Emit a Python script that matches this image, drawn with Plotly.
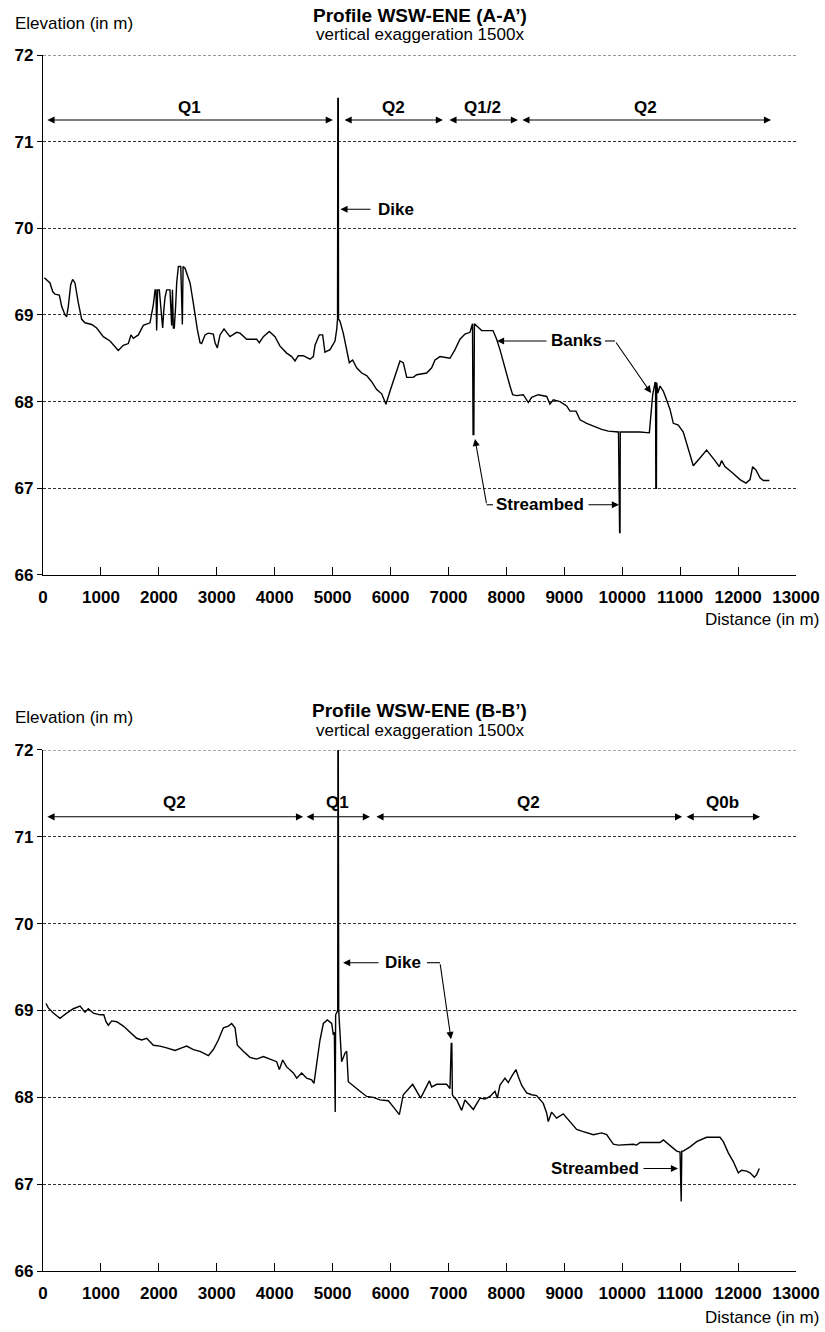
import plotly.graph_objects as go

# ---------------- data ----------------
dist_a = [23,121,167,207,282,322,380,409,437,478,512,552,610,668,725,840,927,1041,1157,1300,1387,1473,1519,1559,1646,1732,1847,1905,1935,1950,1962,1979,2008,2043,2066,2085,2106,2135,2170,2192,2221,2235,2250,2267,2290,2308,2337,2378,2406,2418,2452,2481,2539,2585,2625,2665,2711,2739,2797,2855,2941,2970,3010,3056,3125,3228,3343,3401,3516,3689,3735,3804,3907,4005,4092,4207,4293,4351,4408,4494,4609,4667,4696,4770,4828,4868,4955,5041,5070,5085,5090,5098,5102,5127,5184,5243,5288,5346,5415,5502,5588,5674,5761,5847,5921,5990,6077,6163,6220,6280,6393,6451,6624,6710,6768,6854,7026,7113,7199,7285,7372,7400,7415,7425,7438,7448,7475,7574,7769,7832,7889,7947,8005,8062,8108,8177,8292,8379,8436,8551,8696,8752,8810,8925,9041,9098,9202,9271,9386,9501,9645,9760,9935,9955,9962,9966,10307,10468,10492,10526,10566,10575,10580,10590,10595,10615,10653,10710,10767,10825,10882,10968,11054,11112,11170,11227,11342,11457,11601,11676,11716,11773,11917,12033,12137,12206,12252,12310,12379,12436,12540]
elev_a = [69.43,69.37,69.27,69.24,69.23,69.10,69.00,68.98,69.10,69.35,69.41,69.37,69.14,68.95,68.91,68.89,68.85,68.75,68.70,68.59,68.65,68.67,68.77,68.73,68.77,68.88,68.91,69.12,69.29,69.29,68.82,69.29,69.29,69.00,68.85,69.05,69.20,69.29,69.29,69.29,68.88,69.29,68.85,68.85,69.10,69.37,69.56,69.56,68.89,69.56,69.54,69.48,69.37,69.18,68.98,68.83,68.68,68.67,68.77,68.79,68.78,68.68,68.62,68.77,68.84,68.75,68.80,68.79,68.72,68.72,68.68,68.75,68.81,68.75,68.64,68.56,68.52,68.47,68.53,68.53,68.49,68.52,68.65,68.77,68.77,68.57,68.60,68.70,68.83,68.95,71.50,71.50,68.95,68.93,68.79,68.60,68.45,68.48,68.39,68.33,68.30,68.23,68.14,68.09,67.97,68.12,68.29,68.47,68.45,68.28,68.28,68.31,68.33,68.39,68.48,68.52,68.50,68.60,68.72,68.78,68.80,68.86,68.90,67.62,67.62,68.90,68.88,68.82,68.82,68.72,68.60,68.45,68.33,68.18,68.08,68.07,68.08,67.99,68.05,68.08,68.06,67.97,68.02,68.00,67.95,67.89,67.89,67.79,67.75,67.72,67.68,67.66,67.65,66.49,66.49,67.65,67.65,67.64,67.79,68.08,68.22,68.22,67.00,67.00,68.22,68.10,68.18,68.12,68.02,67.91,67.75,67.73,67.65,67.52,67.41,67.26,67.35,67.44,67.32,67.25,67.32,67.25,67.17,67.10,67.06,67.10,67.25,67.21,67.12,67.09,67.09]

dist_b = [52,92,178,293,409,524,639,725,782,869,984,1050,1088,1128,1186,1272,1387,1502,1617,1704,1790,1905,2020,2135,2279,2394,2481,2596,2711,2855,2941,3027,3114,3200,3257,3315,3355,3458,3573,3689,3804,3919,4034,4080,4138,4207,4322,4380,4466,4552,4638,4678,4713,4782,4840,4909,4984,5012,5030,5045,5052,5075,5088,5092,5098,5105,5127,5156,5214,5243,5271,5358,5473,5588,5703,5818,5962,6048,6152,6220,6382,6520,6670,6710,6797,6969,7026,7048,7058,7068,7084,7142,7228,7285,7372,7429,7545,7631,7717,7803,7844,7889,7976,8033,8091,8165,8205,8263,8349,8436,8522,8637,8695,8723,8781,8867,8982,9098,9213,9300,9386,9501,9645,9731,9846,9933,10192,10249,10307,10652,10710,10825,10940,10998,11008,11018,11028,11054,11170,11285,11457,11687,11745,11831,11917,12004,12061,12148,12206,12281,12321,12367]
elev_b = [69.08,69.03,68.97,68.91,68.97,69.02,69.05,68.98,69.02,68.97,68.95,68.95,68.87,68.83,68.88,68.87,68.82,68.75,68.68,68.66,68.68,68.60,68.59,68.57,68.54,68.57,68.59,68.55,68.53,68.48,68.55,68.66,68.80,68.82,68.85,68.80,68.60,68.53,68.46,68.44,68.47,68.44,68.41,68.32,68.43,68.35,68.28,68.22,68.28,68.22,68.20,68.16,68.32,68.66,68.85,68.89,68.85,68.72,68.75,67.83,68.95,69.00,69.00,72.00,72.00,69.00,68.70,68.41,68.51,68.53,68.18,68.13,68.07,68.01,68.00,67.97,67.96,67.89,67.80,68.03,68.15,67.99,68.19,68.12,68.15,68.15,68.10,68.62,68.62,68.03,68.01,67.97,67.85,67.97,67.91,67.86,67.99,67.98,68.01,68.07,67.99,68.14,68.22,68.17,68.24,68.32,68.24,68.14,68.05,68.03,68.02,67.93,67.82,67.72,67.83,67.76,67.81,67.72,67.63,67.61,67.59,67.57,67.59,67.57,67.46,67.45,67.46,67.45,67.48,67.48,67.51,67.45,67.38,67.37,66.80,66.80,67.38,67.38,67.43,67.49,67.54,67.54,67.49,67.36,67.26,67.13,67.16,67.15,67.13,67.08,67.11,67.18]

units_a = ["Q1", "Q2", "Q1/2", "Q2"]
unit_start_a = [50, 5180, 6990, 8250]
unit_end_a = [5005, 6905, 8200, 12570]
units_b = ["Q2", "Q1", "Q2", "Q0b"]
unit_start_b = [50, 4525, 5730, 11085]
unit_end_b = [4490, 5645, 11035, 12380]

x_ticks = list(range(0, 13001, 1000))
x_tick_labels = [str(v) for v in x_ticks]
y_ticks = [66, 67, 68, 69, 70, 71, 72]
y_tick_labels = [str(v) for v in y_ticks]

titles = ["Profile WSW-ENE (A-A’)", "Profile WSW-ENE (B-B’)"]
subtitle = "vertical exaggeration 1500x"

FONT = "Liberation Sans, Arial, sans-serif"
BLACK = "#000000"
FS = 17

fig = go.Figure()
fig.add_trace(go.Scatter(x=dist_a, y=elev_a, mode="lines", line=dict(color=BLACK, width=1.4),
                         xaxis="x", yaxis="y", showlegend=False, hoverinfo="skip"))
fig.add_trace(go.Scatter(x=dist_b, y=elev_b, mode="lines", line=dict(color=BLACK, width=1.4),
                         xaxis="x2", yaxis="y2", showlegend=False, hoverinfo="skip"))

ann = []
shapes = []

def range_arrows(names, starts, ends, xr, yr, yline, ylab):
    for n, s, e in zip(names, starts, ends):
        ann.append(dict(x=e, y=yline, ax=s, ay=yline, xref=xr, yref=yr, axref=xr, ayref=yr,
                        text="", showarrow=True, arrowhead=2, startarrowhead=2,
                        arrowside="end+start", arrowsize=1.3, startarrowsize=1.3,
                        arrowwidth=1.1, arrowcolor=BLACK))
        ann.append(dict(x=(s + e) / 2, y=ylab, xref=xr, yref=yr, text=f"<b>{n}</b>",
                        showarrow=False, yanchor="middle",
                        font=dict(family=FONT, size=FS, color=BLACK)))

def arrow(x0, y0, x1, y1, xr, yr):
    ann.append(dict(x=x1, y=y1, ax=x0, ay=y0, xref=xr, yref=yr, axref=xr, ayref=yr,
                    text="", showarrow=True, arrowhead=2, arrowsize=1.3, arrowwidth=1.1,
                    arrowcolor=BLACK))

def label(x, y, t, xr, yr, size=FS):
    ann.append(dict(x=x, y=y, xref=xr, yref=yr, text=f"<b>{t}</b>", showarrow=False,
                    yanchor="middle", font=dict(family=FONT, size=size, color=BLACK)))

def seg(x0, y0, x1, y1, xr, yr, dash="solid", color=BLACK, width=1.1):
    shapes.append(dict(type="line", x0=x0, y0=y0, x1=x1, y1=y1, xref=xr, yref=yr,
                       line=dict(color=color, width=width, dash=dash), layer="below"))

# top chart
range_arrows(units_a, unit_start_a, unit_end_a, "x", "y", 71.25, 71.40)
label(6094, 70.22, "Dike", "x", "y")
arrow(5680, 70.22, 5135, 70.22, "x", "y")
label(9219, 68.70, "Banks", "x", "y")
arrow(8718, 68.70, 7838, 68.70, "x", "y")
seg(9702, 68.70, 9875, 68.70, "x", "y")
arrow(9875, 68.70, 10497, 68.10, "x", "y")
label(8580, 66.81, "Streambed", "x", "y")
arrow(9392, 66.81, 9944, 66.81, "x", "y")
seg(7769, 66.81, 7660, 66.81, "x", "y")
arrow(7660, 66.81, 7458, 67.57, "x", "y")

# bottom chart
range_arrows(units_b, unit_start_b, unit_end_b, "x2", "y2", 71.23, 71.39)
label(6215, 69.55, "Dike", "x2", "y2")
arrow(5818, 69.55, 5180, 69.55, "x2", "y2")
seg(6629, 69.55, 6854, 69.55, "x2", "y2")
arrow(6854, 69.55, 7044, 68.67, "x2", "y2")
label(9530, 67.18, "Streambed", "x2", "y2")
arrow(10341, 67.18, 10963, 67.18, "x2", "y2")

# top gridline (at range edge) for both charts
for xd, yr in [("x domain", "y"), ("x2 domain", "y2")]:
    shapes.append(dict(type="line", x0=0, x1=1, y0=y_ticks[-1], y1=y_ticks[-1], xref=xd, yref=yr,
                       line=dict(color="#333333", width=1, dash="3px,2px"), layer="below"))

# titles / axis labels
for i, (xd, yd) in enumerate([("x domain", "y domain"), ("x2 domain", "y2 domain")]):
    ty = [1.0769, 1.0749][i]
    sy = [1.0385, 1.0365][i]
    ey = [1.0615, 1.0614][i]
    dy = [-0.0865, -0.0902][i]
    ann.append(dict(x=0.5, y=ty, xref=xd, yref=yd, text=f"<b>{titles[i]}</b>", showarrow=False,
                    yanchor="middle", font=dict(family=FONT, size=19, color=BLACK)))
    ann.append(dict(x=0.5, y=sy, xref=xd, yref=yd, text=subtitle, showarrow=False,
                    yanchor="middle", font=dict(family=FONT, size=FS, color=BLACK)))
    ann.append(dict(x=-0.04, y=ey, xref=xd, yref=yd, text="Elevation (in m)", showarrow=False,
                    xanchor="left", yanchor="middle", font=dict(family=FONT, size=FS, color=BLACK)))
    ann.append(dict(x=1.033, y=dy, xref=xd, yref=yd, text="Distance (in m)", showarrow=False,
                    xanchor="right", yanchor="middle", font=dict(family=FONT, size=FS, color=BLACK)))

xax = dict(range=[0, 13000], tickmode="array", tickvals=x_ticks, ticktext=x_tick_labels,
           ticks="inside", ticklen=8, tickwidth=1, automargin=False,
           tickcolor=BLACK, showline=True, linecolor=BLACK, linewidth=1.3, showgrid=False,
           zeroline=False, ticklabelstandoff=6,
           tickfont=dict(family=FONT, size=FS, color=BLACK, weight="bold"))
yax = dict(range=[66, 72], tickmode="array", tickvals=y_ticks, ticktext=y_tick_labels,
           ticks="outside", ticklen=5, tickwidth=1, automargin=False,
           tickcolor=BLACK, showline=True, linecolor=BLACK, linewidth=1.3, showgrid=True,
           gridcolor="#333333", gridwidth=1, griddash="3px,2px", zeroline=False,
           tickfont=dict(family=FONT, size=FS, color=BLACK, weight="bold"))

fig.update_layout(
    width=825, height=1332, margin=dict(l=43, r=29, t=55, b=61, autoexpand=False),
    paper_bgcolor="white", plot_bgcolor="white", showlegend=False,
    xaxis=dict(xax, domain=[0, 1], anchor="y"),
    yaxis=dict(yax, domain=[0.5724, 1.0], anchor="x"),
    xaxis2=dict(xax, domain=[0, 1], anchor="y2"),
    yaxis2=dict(yax, domain=[0.0, 0.4285], anchor="x2"),
    annotations=ann, shapes=shapes,
)

fig.write_html("out.html")
